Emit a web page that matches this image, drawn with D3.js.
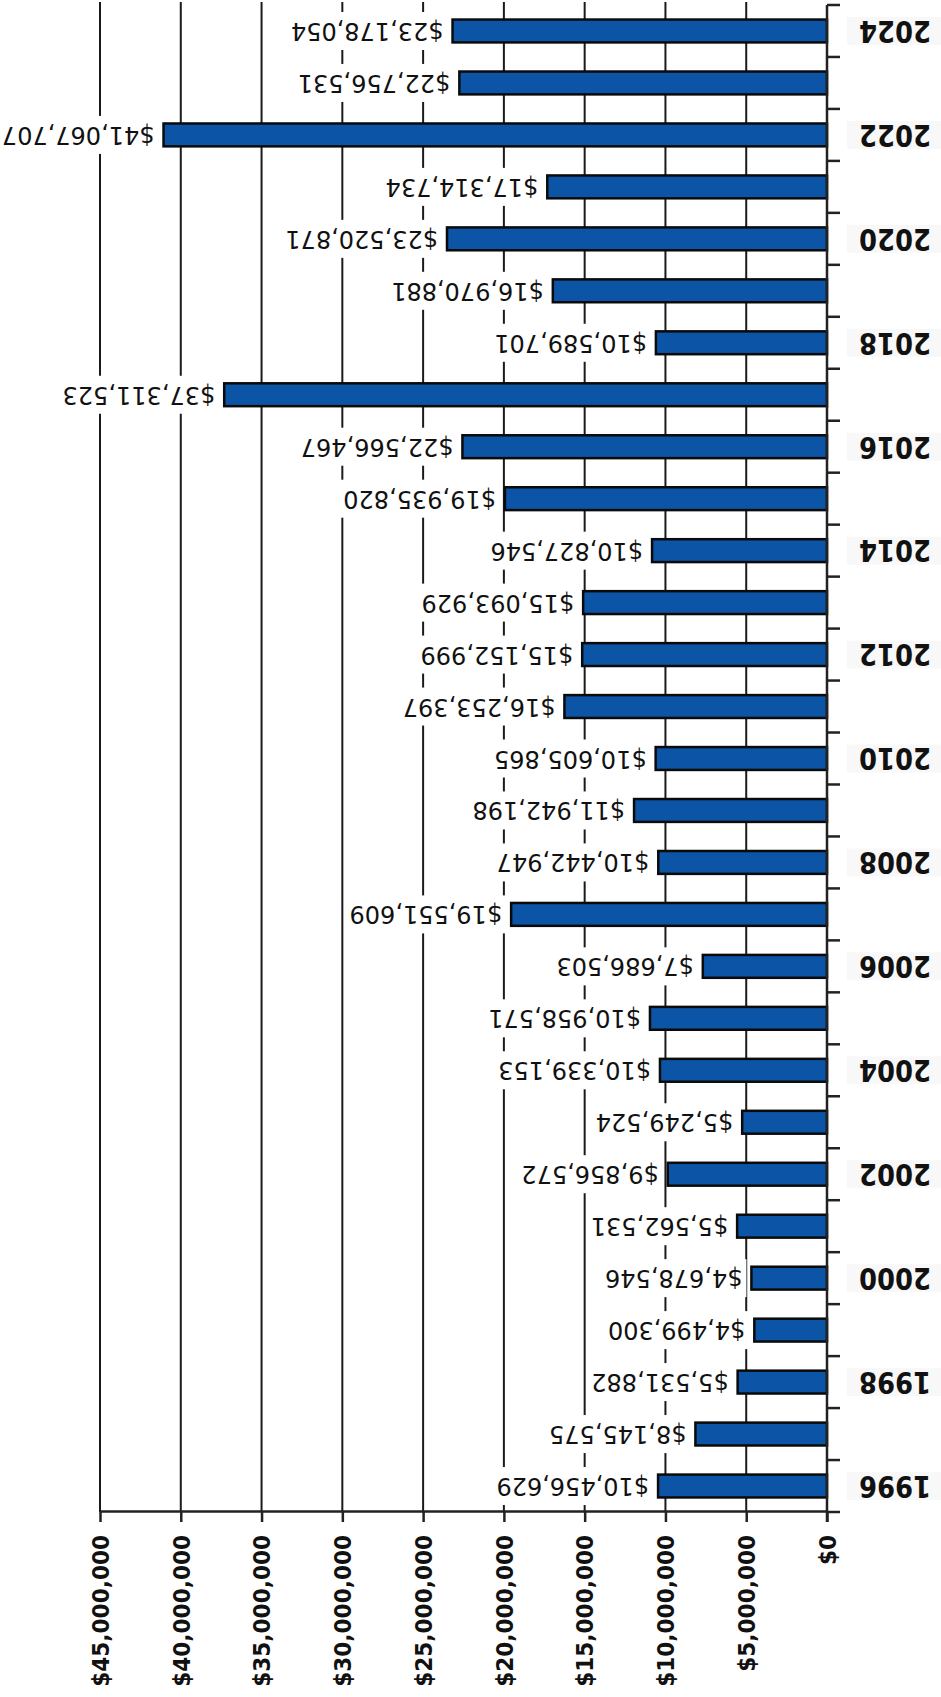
<!DOCTYPE html>
<html>
<head>
<meta charset="utf-8">
<script src="https://cdn.jsdelivr.net/npm/d3@7"></script>
<style>
  body { margin: 0; background: #fff; }
  svg { display: block; }
</style>
</head>
<body>
<svg class="chart" width="941" height="1697"></svg>
<script>
// years, top of the picture first
var years = [2024, 2023, 2022, 2021, 2020, 2019, 2018, 2017, 2016, 2015, 2014, 2013, 2012, 2011,
             2010, 2009, 2008, 2007, 2006, 2005, 2004, 2003, 2002, 2001, 2000, 1999, 1998, 1997, 1996];
var amounts = [23178054, 22756531, 41067707, 17314734, 23520871, 16970881, 10589701, 37311523,
               22566467, 19935820, 10827546, 15093929, 15152999, 16253397, 10605865, 11942198,
               10442947, 19551609, 7686503, 10958571, 10339153, 5249524, 9856572, 5562531,
               4678546, 4499300, 5531882, 8145575, 10456629];
var labelledYears = [2024, 2022, 2020, 2018, 2016, 2014, 2012, 2010, 2008, 2006, 2004, 2002, 2000, 1998, 1996];
var valueTicks = [0, 5000000, 10000000, 15000000, 20000000, 25000000, 30000000, 35000000, 40000000, 45000000];

var data = years.map(function(y, i) { return {year: y, value: amounts[i]}; });

var svg = d3.select(".chart"),
    plotLeft = 100, plotRight = 827, plotTop = 5, plotBottom = 1512;

var x = d3.scaleLinear().domain([0, 45000000]).range([plotRight, plotLeft]);
var y = d3.scaleBand().domain(years).range([plotTop, plotBottom]).paddingInner(0.56).paddingOuter(0.28);

var money = d3.format("$,");

// vertical gridlines
svg.append("g").selectAll("line")
    .data(valueTicks.slice(1))
  .enter().append("line")
    .attr("x1", function(d) { return x(d); })
    .attr("x2", function(d) { return x(d); })
    .attr("y1", plotTop - 3)
    .attr("y2", plotBottom)
    .style("stroke", "#1a1a1a")
    .style("stroke-width", 2);

// bars
svg.append("g").selectAll("rect")
    .data(data)
  .enter().append("rect")
    .attr("x", function(d) { return x(d.value); })
    .attr("y", function(d) { return y(d.year); })
    .attr("width", function(d) { return x(0) - x(d.value); })
    .attr("height", y.bandwidth())
    .style("fill", "#0c54a5")
    .style("stroke", "#0a0a0a")
    .style("stroke-width", 2.5);

// value labels, upside down, with a white box under them
var vl = svg.append("g").selectAll("g")
    .data(data)
  .enter().append("g")
    .attr("transform", function(d) {
      var px = x(d.value) - 9, py = y(d.year) + y.bandwidth() / 2;
      return "translate(" + px + "," + py + ") rotate(180)";
    });

vl.append("text")
    .attr("text-anchor", "start")
    .attr("dominant-baseline", "central")
    .style("font-family", "'DejaVu Sans', sans-serif")
    .style("font-size", "24px")
    .style("fill", "#111")
    .text(function(d) { return money(d.value); })
  .each(function() {
    var b = this.getBBox();
    d3.select(this.parentNode).insert("rect", "text")
        .attr("x", b.x - 4).attr("y", -19)
        .attr("width", b.width + 8).attr("height", 38)
        .style("fill", "#fff");
  });

// category axis on the right
var boundaries = d3.range(years.length + 1).map(function(i) { return plotTop + i * y.step(); });
var cat = svg.append("g");
cat.append("line")
    .attr("x1", plotRight).attr("x2", plotRight)
    .attr("y1", plotTop).attr("y2", plotBottom + 10)
    .style("stroke", "#222").style("stroke-width", 2.5);
cat.selectAll(".tick")
    .data(boundaries)
  .enter().append("line")
    .attr("x1", plotRight).attr("x2", plotRight + 13)
    .attr("y1", function(d) { return d; })
    .attr("y2", function(d) { return d; })
    .style("stroke", "#222").style("stroke-width", 2.5);

var yl = cat.selectAll(".yl")
    .data(labelledYears)
  .enter().append("g")
    .attr("transform", function(d) {
      return "translate(895," + (y(d) + y.bandwidth() / 2) + ") rotate(180)";
    });
yl.append("rect")
    .attr("x", -48).attr("y", -14).attr("width", 96).attr("height", 28)
    .style("fill", "#f8f8f8");
yl.append("text")
    .attr("text-anchor", "middle")
    .attr("dominant-baseline", "central")
    .attr("transform", "scale(0.86,1)")
    .style("font-family", "'DejaVu Sans', sans-serif")
    .style("font-weight", "bold")
    .style("font-size", "30px")
    .style("fill", "#111")
    .text(function(d) { return d; });

// value axis at the bottom
var xAxis = svg.append("g")
    .attr("transform", "translate(0," + (plotBottom - 1) + ")")
    .call(d3.axisBottom(x).tickValues(valueTicks).tickSize(11).tickSizeOuter(0).tickFormat(money));

xAxis.select(".domain").style("stroke", "#222").style("stroke-width", 2.5);
xAxis.selectAll(".tick line").style("stroke", "#222").style("stroke-width", 2.5);
xAxis.selectAll(".tick text")
    .attr("y", 0).attr("dy", 0)
    .attr("transform", "translate(0,24) rotate(-90) scale(0.94,1)")
    .attr("text-anchor", "end")
    .attr("dominant-baseline", "central")
    .style("font-family", "'DejaVu Sans', sans-serif")
    .style("font-weight", "bold")
    .style("font-size", "23px")
    .style("fill", "#111");
</script>
</body>
</html>
